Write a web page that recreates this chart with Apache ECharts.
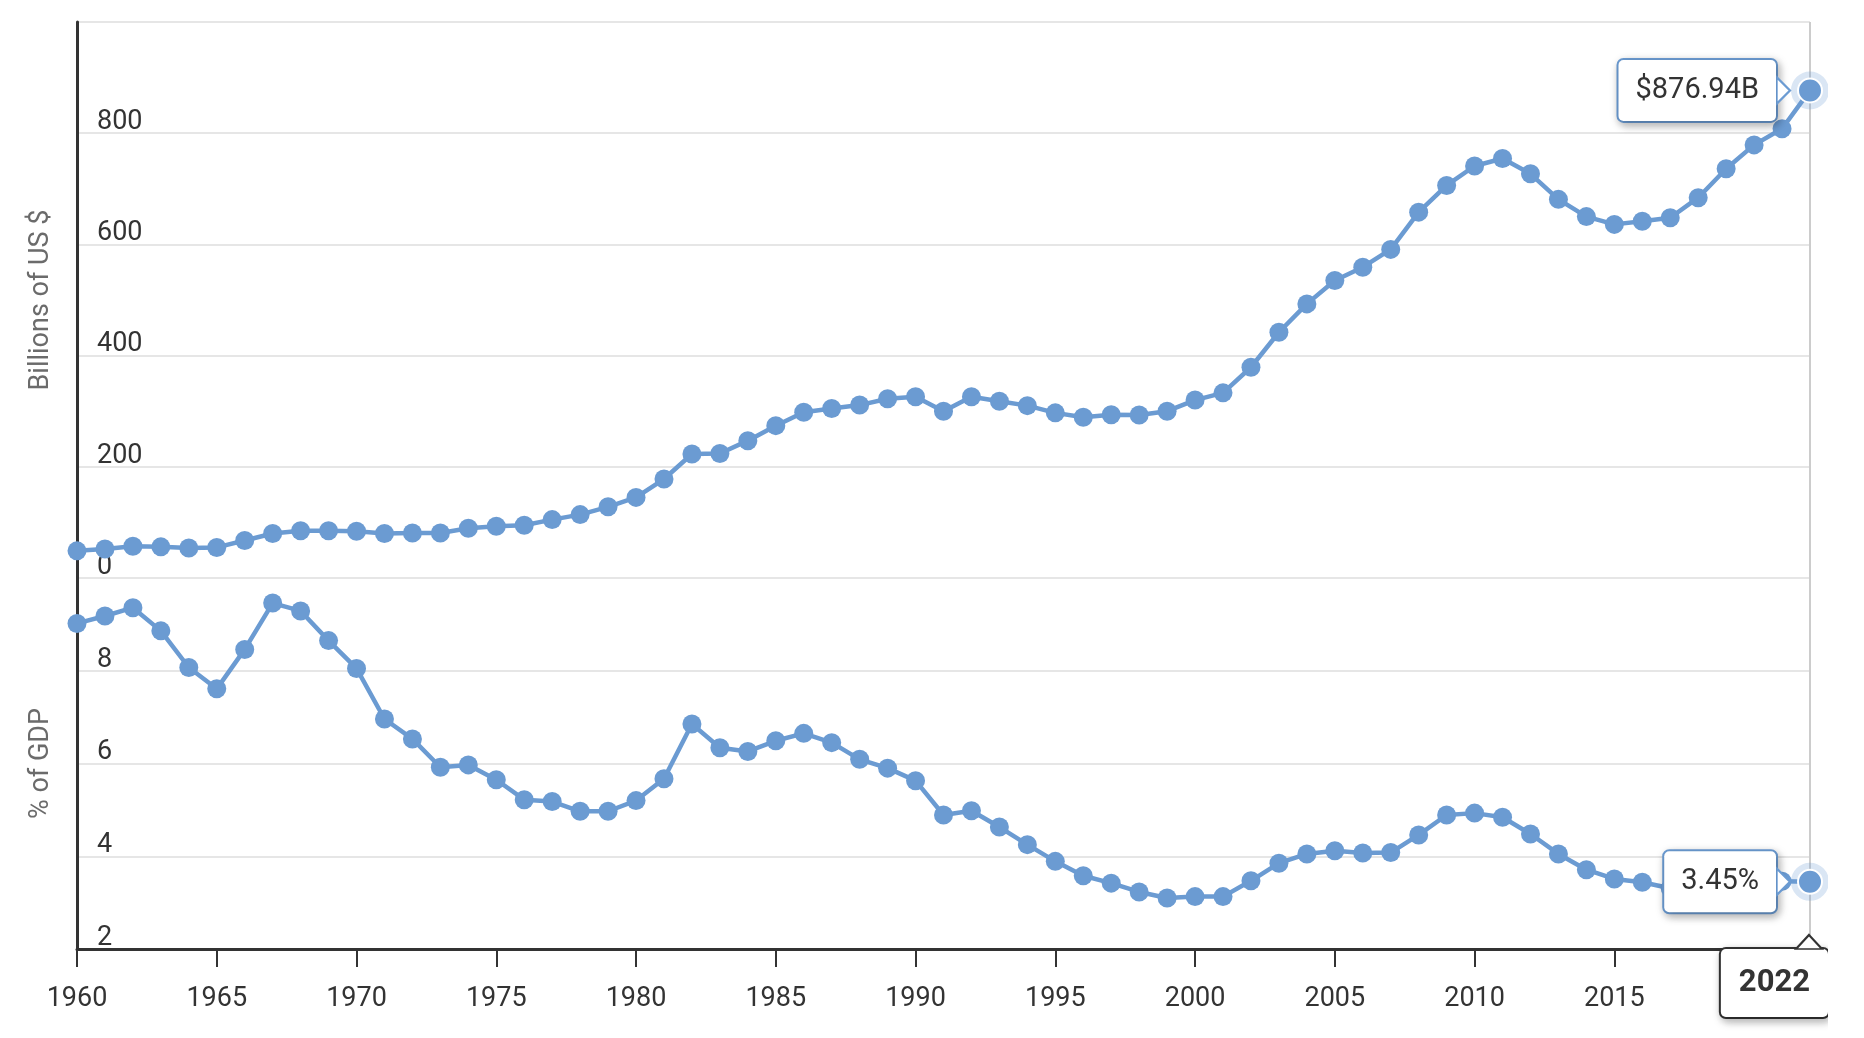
<!DOCTYPE html>
<html>
<head>
<meta charset="utf-8">
<script src="https://cdn.jsdelivr.net/npm/echarts@6/dist/echarts.min.js"></script>
<style>
  html, body { margin: 0; padding: 0; background: #fff; }
  #chart { width: 1828px; height: 1038px; }
</style>
</head>
<body>
<div id="chart"></div>
<script>
// ---- Data ----
const years = [];
for (let y = 1960; y <= 2022; y++) years.push(String(y));

const billionsUSD = [
  48.8, 52, 57, 56, 54, 55, 67.5, 80, 85, 85,
  84, 80, 81, 81, 89.5, 93, 95, 105, 114, 128,
  145, 178, 223, 224, 247, 274, 298, 305, 311, 322.5,
  326, 300, 326, 318, 310, 297, 289, 293.5, 293, 300,
  320, 333, 379, 442, 493, 535, 559, 591, 658, 706,
  741, 754.5, 727, 681, 650, 636, 641.6, 648, 684, 736,
  779, 808, 876.94
];

const pctOfGDP = [
  9.02, 9.18, 9.36, 8.86, 8.07, 7.61, 8.46, 9.46, 9.29, 8.65,
  8.05, 6.96, 6.53, 5.92, 5.97, 5.65, 5.22, 5.18, 4.97, 4.97,
  5.20, 5.67, 6.85, 6.34, 6.26, 6.49, 6.65, 6.45, 6.09, 5.90,
  5.63, 4.89, 4.98, 4.63, 4.25, 3.89, 3.58, 3.42, 3.23, 3.10,
  3.13, 3.13, 3.47, 3.85, 4.05, 4.12, 4.07, 4.08, 4.46, 4.89,
  4.93, 4.84, 4.48, 4.05, 3.71, 3.51, 3.44, 3.31, 3.32, 3.45,
  3.66, 3.46, 3.45
];

const billionsTicks = [0, 200, 400, 600, 800, 1000];
const pctTicks = [2, 4, 6, 8, 10];

const axisNames = ['Billions of US $', '% of GDP'];

// ---- Styles ----
const BLUE = '#6b9bd2';
const FONT = 'Roboto';
const last = years.length - 1;

function withLast(arr, fmt) {
  return arr.map((v, i) => i === last ? {
    value: v,
    symbolSize: 24,
    itemStyle: { borderColor: '#fff', borderWidth: 2 },
    label: { show: true, formatter: fmt }
  } : v);
}

const boxLabel = {
  show: false,
  position: 'left',
  distance: 21,
  backgroundColor: '#fff',
  borderColor: BLUE,
  borderWidth: 2,
  borderRadius: 5,
  padding: [17, 17, 15, 17],
  fontSize: 29,
  fontFamily: FONT,
  color: '#333',
  shadowBlur: 8,
  shadowColor: 'rgba(0,0,0,0.28)',
  shadowOffsetX: 2,
  shadowOffsetY: 3
};

function marks(arr) {
  return {
    silent: true,
    animation: false,
    label: { show: false },
    data: [
      { coord: [last, arr[last]], symbol: 'circle', symbolSize: 32,
        itemStyle: { color: 'rgba(0,0,0,0)', borderColor: 'rgba(107,155,210,0.25)', borderWidth: 6 } },
      { coord: [last, arr[last]], symbol: 'triangle', symbolRotate: -90, symbolSize: [26, 13], symbolOffset: [-26.5, 0],
        itemStyle: { color: '#fff', borderColor: BLUE, borderWidth: 2 } }
    ]
  };
}

const yAxisCommon = {
  type: 'value',
  axisLine: { show: true, lineStyle: { color: '#333', width: 3 } },
  axisTick: { show: false },
  splitLine: { show: true, lineStyle: { color: '#e6e6e6', width: 2 } },
  axisLabel: {
    inside: true, margin: 20, verticalAlign: 'bottom', lineHeight: 22, padding: [0, 0, 0, 0],
    fontSize: 27, fontFamily: FONT, color: '#333', showMaxLabel: false
  },
  nameLocation: 'middle',
  nameGap: 22,
  nameRotate: 90,
  nameTextStyle: { fontSize: 27, fontFamily: FONT, color: '#6b6b6b' }
};

const pointerLine = { color: '#cccccc', width: 2, type: 'solid' };

const chart = echarts.init(document.getElementById('chart'));
chart.setOption({
  animation: false,
  textStyle: { fontFamily: FONT },
  grid: [
    { left: 77, right: 18, top: 22, height: 556 },
    { left: 77, right: 18, top: 578, height: 371 }
  ],
  xAxis: [
    {
      type: 'category', gridIndex: 0, data: years, boundaryGap: false,
      axisLine: { show: false }, axisTick: { show: false }, axisLabel: { show: false },
      splitLine: { show: false },
      axisPointer: {
        show: true, status: 'show', value: last, type: 'line', z: 1,
        lineStyle: pointerLine,
        label: { show: false }
      }
    },
    {
      type: 'category', gridIndex: 1, data: years, boundaryGap: false,
      axisLine: { show: true, onZero: false, lineStyle: { color: '#333', width: 3 } },
      axisTick: { show: true, interval: 4, length: 18, lineStyle: { color: '#333', width: 2 } },
      axisLabel: { interval: 4, margin: 37, fontSize: 27, fontFamily: FONT, color: '#333' },
      splitLine: { show: false },
      axisPointer: {
        show: true, status: 'show', value: last, type: 'line', z: 1,
        lineStyle: pointerLine,
        label: {
          show: true, margin: 0,
          fontSize: 31, fontWeight: 'bold', fontFamily: FONT, color: '#333',
          backgroundColor: '#fff', borderColor: '#333', borderWidth: 2, borderRadius: 5,
          padding: [19, 18, 18, 18],
          shadowBlur: 8, shadowColor: 'rgba(0,0,0,0.28)', shadowOffsetX: 2, shadowOffsetY: 3
        }
      }
    }
  ],
  yAxis: [
    Object.assign({}, yAxisCommon, {
      gridIndex: 0, name: axisNames[0],
      min: billionsTicks[0], max: billionsTicks[billionsTicks.length - 1], interval: billionsTicks[1] - billionsTicks[0]
    }),
    Object.assign({}, yAxisCommon, {
      gridIndex: 1, name: axisNames[1],
      min: pctTicks[0], max: pctTicks[pctTicks.length - 1], interval: pctTicks[1] - pctTicks[0]
    })
  ],
  series: [
    {
      type: 'line', xAxisIndex: 0, yAxisIndex: 0, clip: false,
      data: withLast(billionsUSD, p => '$' + p.value.toFixed(2) + 'B'),
      symbol: 'circle', symbolSize: 19, showAllSymbol: true,
      lineStyle: { color: BLUE, width: 4.5 },
      itemStyle: { color: BLUE },
      label: boxLabel,
      emphasis: { disabled: true },
      markPoint: marks(billionsUSD)
    },
    {
      type: 'line', xAxisIndex: 1, yAxisIndex: 1, clip: false,
      data: withLast(pctOfGDP, p => p.value.toFixed(2) + '%'),
      symbol: 'circle', symbolSize: 19, showAllSymbol: true,
      lineStyle: { color: BLUE, width: 4.5 },
      itemStyle: { color: BLUE },
      label: boxLabel,
      emphasis: { disabled: true },
      markPoint: (function () {
        const m = marks(pctOfGDP);
        m.data.push({
          coord: [last, pctTicks[0]], symbol: 'triangle', symbolSize: [26, 14], symbolOffset: [-1, -7],
          itemStyle: { color: '#fff', borderColor: '#333', borderWidth: 2 }
        });
        return m;
      })()
    }
  ]
});
</script>
</body>
</html>
